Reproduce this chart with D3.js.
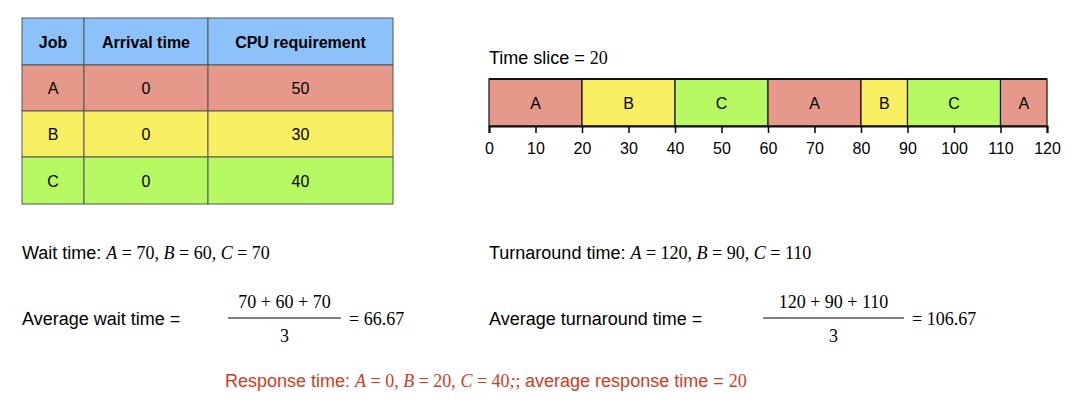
<!DOCTYPE html><html><head><script src="https://cdn.jsdelivr.net/npm/d3@7"></script>
<style>body{margin:0;background:#fff}</style></head><body><svg id="c" width="1072" height="420"></svg>
<script>
const headers=["Job","Arrival time","CPU requirement"];
const jobs=["A","B","C"];
const arrival=[0,0,0];
const cpu=[50,30,40];
const segJobs=["A","B","C","A","B","C","A"];
const segStart=[0,20,40,60,80,90,110];
const segEnd=[20,40,60,80,90,110,120];
const ticks=[0,10,20,30,40,50,60,70,80,90,100,110,120];
const colors={A:"#E6998A",B:"#F9EF63",C:"#B7F962",H:"#8CC1FA"};
const svg=d3.select("#c");
const sans="Helvetica, Arial, 'Liberation Sans', sans-serif", serif="'Times New Roman','Liberation Serif',serif";
// table
const colX=[22,84,208,393], rowY=[18,65,111,157,204];
const rows=[headers].concat(jobs.map((j,i)=>[j,arrival[i],cpu[i]]));
rows.forEach((r,ri)=>{
  const fill=ri===0?colors.H:colors[r[0]];
  r.forEach((v,ci)=>{
    svg.append("rect").attr("x",colX[ci]).attr("y",rowY[ri]).attr("width",colX[ci+1]-colX[ci]).attr("height",rowY[ri+1]-rowY[ri]).attr("fill",fill).attr("stroke","#555").attr("stroke-width",1);
    svg.append("text").attr("x",(colX[ci]+colX[ci+1])/2).attr("y",(rowY[ri]+rowY[ri+1])/2+6).attr("text-anchor","middle").attr("font-family",sans).attr("font-size",16).attr("font-weight",ri===0?"bold":"normal").text(v);
  });
});
// gantt
const x=d3.scaleLinear().domain([0,120]).range([489,1047]);
const gy=79,gh=47;
svg.append("text").attr("x",489).attr("y",64).attr("font-family",sans).attr("font-size",18).text("Time slice = ").append("tspan").attr("font-family",serif).text("20");
segJobs.forEach((j,i)=>{
  svg.append("rect").attr("x",x(segStart[i])).attr("y",gy).attr("width",x(segEnd[i])-x(segStart[i])).attr("height",gh).attr("fill",colors[j]).attr("stroke","#111").attr("stroke-width",1.2);
  svg.append("text").attr("x",(x(segStart[i])+x(segEnd[i]))/2).attr("y",gy+gh/2+6).attr("text-anchor","middle").attr("font-family",sans).attr("font-size",16).text(j);
});
svg.append("line").attr("x1",x(0)).attr("x2",x(120)).attr("y1",gy).attr("y2",gy).attr("stroke","#111").attr("stroke-width",2);
const ax=svg.append("g").attr("transform",`translate(0,${gy+gh})`).call(d3.axisBottom(x).tickValues(ticks).tickSize(7).tickPadding(10));
ax.select(".domain").attr("stroke-width",2).attr("stroke","#111");
ax.selectAll("line").attr("stroke-width",1.5);
ax.selectAll("text").attr("font-family",sans).attr("font-size",16).attr("fill","#000");
// texts
function line(xp,y,parts,color){
  const t=svg.append("text").attr("x",xp).attr("y",y).attr("font-size",18).attr("fill",color||"#000");
  parts.forEach(p=>{const s=t.append("tspan").attr("font-family",p[1]?serif:sans).text(p[0]);if(p[2])s.attr("font-style","italic");});
  return t;
}
const wait=[70,60,70], turn=[120,90,110], resp=[0,20,40];
function mathList(label,vals){
  const parts=[[label,0]];
  jobs.forEach((j,i)=>{parts.push([j,1,1]);parts.push([" = "+vals[i]+(i<2?", ":""),1]);});
  return parts;
}
line(22,259,mathList("Wait time: ",wait));
line(489,259,mathList("Turnaround time: ",turn));
function frac(xp,label,vals,res,x1,x2){
  line(xp,325,[[label,0]]);
  svg.append("text").attr("x",(x1+x2)/2).attr("y",308).attr("text-anchor","middle").attr("font-family",serif).attr("font-size",18).text(vals.join(" + "));
  svg.append("line").attr("x1",x1).attr("x2",x2).attr("y1",318).attr("y2",318).attr("stroke","#000").attr("stroke-width",1);
  svg.append("text").attr("x",(x1+x2)/2).attr("y",342).attr("text-anchor","middle").attr("font-family",serif).attr("font-size",18).text("3");
  svg.append("text").attr("x",x2+8).attr("y",325).attr("font-family",serif).attr("font-size",18).text("= "+res);
}
frac(22,"Average wait time = ",wait,(d3.sum(wait)/3).toFixed(2),228,341);
frac(489,"Average turnaround time = ",turn,(d3.sum(turn)/3).toFixed(2),763,904);
const rp=mathList("Response time: ",resp);
rp.push(";  ",1);rp.push(["average response time = ",0]);rp.push(["20",1]);
rp.splice(rp.length-3,1,[";  ",1]);
line(225,387,rp,"#CC3D1E");
</script></body></html>
